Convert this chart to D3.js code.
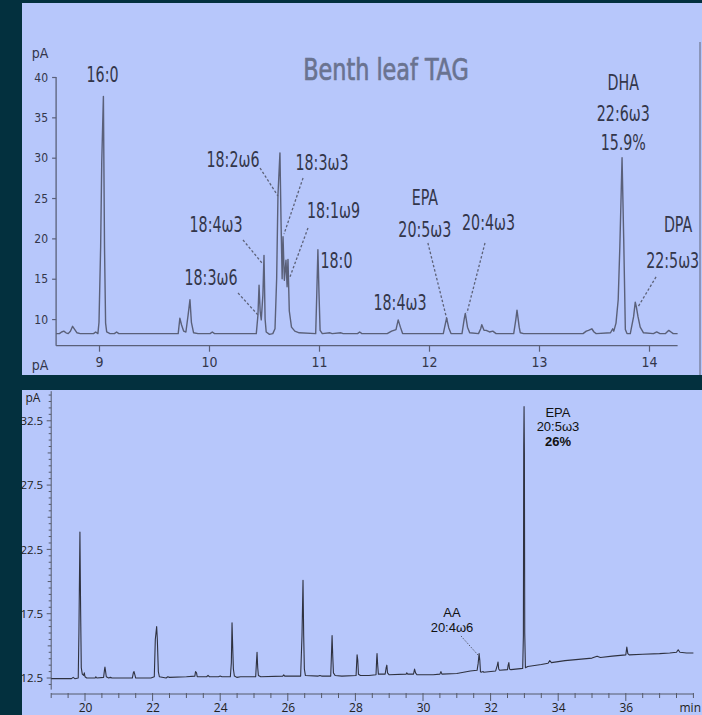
<!DOCTYPE html>
<html><head><meta charset="utf-8">
<script src="https://cdn.jsdelivr.net/npm/d3@7"></script>
<style>
html,body{margin:0;padding:0;background:#03303e;}
svg{display:block;}
.narrow{font-family:"Liberation Sans Narrow","DejaVu Sans Condensed","Arial Narrow",sans-serif;font-stretch:condensed;}
.open{font-family:"Open Sans","Noto Sans",sans-serif;}
.lib{font-family:"Liberation Sans",Arial,sans-serif;}
</style></head>
<body>
<svg id="c" width="702" height="715"></svg>
<script>
// ---------------- DATA ----------------
// Top chromatogram: retention time (min), signal (pA)
const topTrace = [[8.61,8.2],[8.64,8.2],[8.66,8.4],[8.68,8.5],[8.70,8.3],[8.72,8.2],[8.74,8.5],[8.76,9.1],[8.78,8.7],[8.80,8.3],[8.83,8.2],[8.95,8.2],[8.97,8.4],[8.99,8.2],[9.00,9.6],[9.015,19],[9.025,29.5],[9.04,37.6],[9.05,19],[9.06,9.5],[9.07,8.4],[9.10,8.2],[9.14,8.2],[9.16,8.4],[9.18,8.2],[9.72,8.2],[9.735,10.1],[9.75,9.3],[9.77,8.5],[9.79,8.4],[9.81,10.5],[9.827,12.4],[9.84,9.6],[9.86,8.3],[9.90,8.2],[10.01,8.2],[10.03,8.4],[10.05,8.2],[10.43,8.2],[10.445,10.5],[10.455,14.2],[10.465,11],[10.475,9.9],[10.49,13],[10.50,17.9],[10.51,10],[10.52,8.4],[10.55,8.1],[10.58,8.2],[10.60,8.8],[10.615,15],[10.627,25.4],[10.645,30.6],[10.655,22],[10.665,15],[10.673,20.2],[10.685,14.8],[10.70,17.3],[10.71,14],[10.718,17.4],[10.73,11],[10.75,9],[10.78,8.5],[10.82,8.3],[10.97,8.2],[10.98,13.2],[10.99,18.6],[11.0,13.2],[11.01,8.6],[11.03,8.2],[11.10,8.3],[11.12,8.2],[11.20,8.3],[11.22,8.2],[11.35,8.2],[11.37,8.4],[11.39,8.2],[11.62,8.2],[11.66,8.5],[11.70,8.7],[11.72,9.9],[11.74,9.0],[11.76,8.2],[12.13,8.2],[12.15,9.5],[12.16,10.1],[12.18,8.9],[12.20,8.2],[12.30,8.2],[12.32,10],[12.33,10.7],[12.35,9.0],[12.37,8.3],[12.45,8.2],[12.47,8.8],[12.48,9.3],[12.50,8.6],[12.52,8.6],[12.55,8.4],[12.58,8.5],[12.61,8.2],[12.77,8.2],[12.79,10],[12.80,11.1],[12.82,9],[12.83,8.3],[12.86,8.2],[13.40,8.2],[13.43,8.5],[13.45,8.6],[13.48,8.8],[13.50,8.4],[13.52,8.2],[13.65,8.3],[13.67,8.8],[13.68,8.5],[13.70,9.5],[13.72,12.4],[13.735,19],[13.755,30],[13.77,20],[13.785,8.7],[13.80,8.2],[13.83,8.2],[13.86,10.3],[13.875,12.1],[13.885,11.5],[13.90,10.3],[13.92,9.0],[13.95,8.3],[14.04,8.2],[14.07,8.4],[14.10,8.2],[14.15,8.2],[14.18,8.6],[14.20,8.4],[14.22,8.2],[14.26,8.2]];

// Bottom chromatogram: retention time (min), signal (pA)
const bottomTrace = [[19.0,12.45],[19.6,12.45],[19.65,12.55],[19.7,12.45],[19.80,12.5],[19.82,16.0],[19.85,23.85],[19.87,17.9],[19.89,13.3],[19.92,12.8],[19.96,12.7],[19.98,12.9],[20.0,12.6],[20.05,12.5],[20.3,12.5],[20.32,12.6],[20.35,12.5],[20.55,12.55],[20.58,13.2],[20.59,13.35],[20.61,13.0],[20.63,12.6],[20.7,12.5],[20.75,12.55],[20.8,12.5],[21.40,12.5],[21.43,12.9],[21.45,13.0],[21.48,12.7],[21.5,12.5],[21.95,12.5],[22.05,12.6],[22.08,15.5],[22.10,16.0],[22.12,16.5],[22.14,15.5],[22.17,13.0],[22.2,12.6],[22.4,12.5],[22.45,12.6],[22.5,12.55],[23.0,12.6],[23.25,12.65],[23.27,13.0],[23.3,12.9],[23.32,12.6],[23.6,12.6],[23.64,12.7],[23.68,12.6],[23.95,12.6],[24.0,12.65],[24.05,12.6],[24.30,12.6],[24.33,13.7],[24.35,16.8],[24.37,14.9],[24.39,13.2],[24.42,12.65],[24.5,12.55],[24.6,12.6],[25.05,12.6],[25.07,13.6],[25.09,14.5],[25.11,13.3],[25.13,12.7],[25.2,12.6],[25.85,12.65],[25.88,12.75],[25.91,12.65],[26.38,12.65],[26.42,15.8],[26.45,20.1],[26.47,15.8],[26.49,13.2],[26.52,12.7],[26.9,12.65],[26.95,12.7],[27.0,12.65],[27.27,12.65],[27.29,14.2],[27.31,15.8],[27.33,14.2],[27.35,12.9],[27.4,12.7],[27.6,12.65],[28.02,12.7],[28.04,13.8],[28.05,14.3],[28.07,13.9],[28.09,12.8],[28.15,12.7],[28.4,12.7],[28.61,12.75],[28.63,14.0],[28.64,14.4],[28.66,13.5],[28.68,12.8],[28.88,12.8],[28.91,13.3],[28.93,13.5],[28.95,12.9],[29.0,12.75],[29.5,12.8],[29.52,12.9],[29.55,12.8],[29.72,12.8],[29.75,13.2],[29.78,12.9],[29.82,12.75],[30.3,12.75],[30.5,12.8],[30.53,13.0],[30.56,12.8],[31.0,12.85],[31.2,12.95],[31.4,13.05],[31.6,13.1],[31.63,13.6],[31.66,14.4],[31.68,13.9],[31.70,13.0],[31.72,12.95],[31.78,13.0],[31.8,12.95],[32.15,13.05],[32.2,13.5],[32.22,13.75],[32.24,13.2],[32.27,13.1],[32.5,13.15],[32.52,13.5],[32.54,13.7],[32.56,13.2],[32.6,13.15],[32.95,13.25],[32.97,15.8],[32.98,30.5],[32.99,33.6],[33.00,30],[33.01,16],[33.03,13.3],[33.1,13.4],[33.5,13.55],[33.7,13.65],[33.75,13.85],[33.8,13.7],[34.2,13.85],[34.6,13.95],[35.0,14.05],[35.15,14.2],[35.25,14.1],[35.6,14.2],[36.0,14.3],[36.03,14.9],[36.06,14.4],[36.1,14.3],[36.5,14.35],[37.0,14.4],[37.3,14.45],[37.5,14.5],[37.55,14.7],[37.6,14.5],[37.8,14.45],[38.0,14.45]];

const topXTicks = [9,10,11,12,13,14];
const topYTicks = [10,15,20,25,30,35,40];
const bottomXTicks = [20,22,24,26,28,30,32,34,36];
const bottomYTicks = [12.5,17.5,22.5,27.5,32.5];

const topTitle = "Benth leaf TAG";
// peak labels: text lines, anchor (time, pA) of first line
const topLabels = [
  {lines:["16:0"], t:9.032, v:39.38},
  {lines:["18:2ω6"], t:10.218, v:28.85},
  {lines:["18:3ω3"], t:11.027, v:28.48},
  {lines:["18:4ω3"], t:10.064, v:20.79},
  {lines:["18:3ω6"], t:10.018, v:14.23},
  {lines:["18:1ω9"], t:11.132, v:22.53},
  {lines:["18:0"], t:11.159, v:16.33},
  {lines:["18:4ω3"], t:11.736, v:11.13},
  {lines:["EPA","20:5ω3"], t:11.962, v:24.14},
  {lines:["20:4ω3"], t:12.541, v:21.04},
  {lines:["DHA","22:6ω3","15.9%"], t:13.766, v:38.39},
  {lines:["DPA"], t:14.264, v:20.79},
  {lines:["22:5ω3"], t:14.215, v:16.33}
];
const topLeaders = [
  [[10.464,28.72],[10.627,25.25]],
  [[10.855,27.48],[10.682,20.54]],
  [[10.900,21.29],[10.736,15.22]],
  [[10.309,19.80],[10.482,16.95]],
  [[10.264,13.23],[10.445,10.51]],
  [[11.990,19.43],[12.164,9.89]],
  [[12.509,19.43],[12.345,10.76]],
  [[14.064,15.22],[13.900,11.50]]
];
const bottomLabels = [
  {lines:["AA","20:4ω6"], t:30.858, v:17.24, bold:[]},
  {lines:["EPA","20:5ω3","26%"], t:33.994, v:32.8, bold:[2]}
];
const bottomLeaders = [
  [[31.124,15.77],[31.627,14.29]]
];

// ---------------- DRAW ----------------
const svg = d3.select("#c");
const panelFill = "#b7c7fb";

svg.append("rect").attr("x",22).attr("y",3).attr("width",680).attr("height",372).attr("fill",panelFill);
svg.append("rect").attr("x",22).attr("y",390).attr("width",680).attr("height",325).attr("fill",panelFill);

// ===== TOP PANEL =====
const tx = d3.scaleLinear().domain([8.61,14.26]).range([56.1,677.6]);
const ty = d3.scaleLinear().domain([6.7,40]).range([345.7,77]);
const topG = svg.append("g");
const topInk = "#5a6079";
const topText = "#33364a";

topG.append("line").attr("x1",700).attr("x2",700).attr("y1",42).attr("y2",375).attr("stroke","#6f7590").attr("stroke-width",1.2);

const tyAxis = d3.axisLeft(ty).tickValues(topYTicks).tickSize(4).tickPadding(4).tickFormat(d3.format("d"));
const gy = topG.append("g").attr("transform",`translate(${tx(8.61)},0)`).call(tyAxis);
gy.select(".domain").attr("d",`M0,${ty(40)}V${ty(6.7)}`).attr("stroke",topInk).attr("stroke-width",1.3);
gy.selectAll(".tick line").attr("stroke",topInk).attr("stroke-width",1.2);
gy.selectAll(".tick text").attr("class","narrow").attr("fill",topText).attr("font-size",12).attr("dy","0.35em");

const txAxis = d3.axisBottom(tx).tickValues(topXTicks).tickSize(6).tickPadding(5).tickFormat(d3.format("d"));
const gx = topG.append("g").attr("transform",`translate(0,${ty(6.7)})`).call(txAxis);
gx.select(".domain").attr("d",`M${tx(8.61)},0H${tx(14.26)}`).attr("stroke",topInk).attr("stroke-width",1.3);
gx.selectAll(".tick line").attr("stroke",topInk).attr("stroke-width",1.2);
gx.selectAll(".tick text").attr("class","narrow").attr("fill",topText).attr("font-size",14);

topG.append("text").attr("class","narrow").attr("x",40).attr("y",58).attr("text-anchor","middle").attr("font-size",14).attr("fill",topText).text("pA");
topG.append("text").attr("class","narrow").attr("x",40).attr("y",370).attr("text-anchor","middle").attr("font-size",14).attr("fill",topText).text("pA");

const tLine = d3.line().x(d=>tx(d[0])).y(d=>ty(d[1]));
topG.append("path").datum(topTrace).attr("d",tLine).attr("fill","none").attr("stroke",topInk).attr("stroke-width",1.4).attr("stroke-linejoin","round");

topG.selectAll(".tl").data(topLeaders).join("path").attr("d",tLine).attr("fill","none").attr("stroke","#5d6278").attr("stroke-width",1.3).attr("stroke-dasharray","2.5,2");

topG.append("text").attr("class","narrow").attr("transform",`translate(${tx(11.609)},${ty(39.63)}) scale(0.8,1)`).attr("text-anchor","middle").attr("font-size",31).attr("fill","#6a7390").attr("stroke","#6a7390").attr("stroke-width",0.7).text(topTitle);

topLabels.forEach(l=>{
  const n = l.lines.length;
  const gaps = n===3 ? [0,31,60] : (n===2 ? [0,32] : [0]);
  l.lines.forEach((s,i)=>{
    topG.append("text").attr("class","narrow")
      .attr("transform",`translate(${tx(l.t)},${ty(l.v)+gaps[i]}) scale(0.72,1)`)
      .attr("text-anchor","middle").attr("font-size",22).attr("fill",topText).text(s);
  });
});

// ===== BOTTOM PANEL =====
const bx = d3.scaleLinear().domain([19,38]).range([51.2,693.4]);
const by = d3.scaleLinear().domain([11.6,34.8]).range([689.6,391.2]);
const botG = svg.append("g");
const botInk = "#2f3240";
const axInk = "#555a6a";

const yMinor = d3.range(12,35,0.5);
botG.append("line").attr("x1",bx(19)).attr("x2",bx(19)).attr("y1",by(34.8)).attr("y2",by(11.6)).attr("stroke",axInk).attr("stroke-width",1);
botG.selectAll(".ymn").data(yMinor).join("line")
  .attr("x1",d=>bx(19)-(bottomYTicks.includes(d)?4.5:(Number.isInteger(d/2.5)?3.5:2.5))).attr("x2",bx(19))
  .attr("y1",d=>by(d)).attr("y2",d=>by(d)).attr("stroke",axInk).attr("stroke-width",1);
const byAxis = d3.axisLeft(by).tickValues(bottomYTicks).tickSize(0).tickPadding(8).tickFormat(d3.format(".1f"));
const gby = botG.append("g").attr("transform",`translate(${bx(19)},0)`).call(byAxis);
gby.select(".domain").remove();
gby.selectAll(".tick text").attr("class","open").attr("fill","#222").attr("font-size",11.5);

const axY = 694;
botG.append("line").attr("x1",bx(19)).attr("x2",bx(38)).attr("y1",axY).attr("y2",axY).attr("stroke",axInk).attr("stroke-width",1);
const xMinor = d3.range(19,38.01,0.5);
botG.selectAll(".xmn").data(xMinor).join("line")
  .attr("x1",d=>bx(d)).attr("x2",d=>bx(d)).attr("y1",axY-1)
  .attr("y2",d=>bottomXTicks.includes(d)?axY+7:axY+4).attr("stroke",axInk).attr("stroke-width",1);
const bxAxis = d3.axisBottom(bx).tickValues(bottomXTicks).tickSize(0).tickPadding(9);
const gbx = botG.append("g").attr("transform",`translate(0,${axY})`).call(bxAxis);
gbx.select(".domain").remove();
gbx.selectAll(".tick text").attr("class","open").attr("fill","#222").attr("font-size",12);
botG.append("text").attr("class","open").attr("x",701).attr("y",712).attr("text-anchor","end").attr("font-size",12).attr("fill","#222").text("min");
botG.append("text").attr("class","open").attr("x",33).attr("y",402).attr("text-anchor","middle").attr("font-size",12).attr("fill","#222").text("pA");

const bLine = d3.line().x(d=>bx(d[0])).y(d=>by(d[1]));
botG.append("path").datum(bottomTrace).attr("d",bLine).attr("fill","none").attr("stroke",botInk).attr("stroke-width",1.1).attr("stroke-linejoin","round");
botG.selectAll(".bl").data(bottomLeaders).join("path").attr("d",bLine).attr("fill","none").attr("stroke",axInk).attr("stroke-width",1).attr("stroke-dasharray","1.5,1.5");

bottomLabels.forEach(l=>{
  l.lines.forEach((s,i)=>{
    botG.append("text").attr("class","lib").attr("x",bx(l.t)).attr("y",by(l.v)+i*14.5)
      .attr("text-anchor","middle").attr("font-size",13).attr("fill","#111")
      .attr("font-weight",l.bold.includes(i)?"bold":"normal").text(s);
  });
});
</script>
</body></html>
